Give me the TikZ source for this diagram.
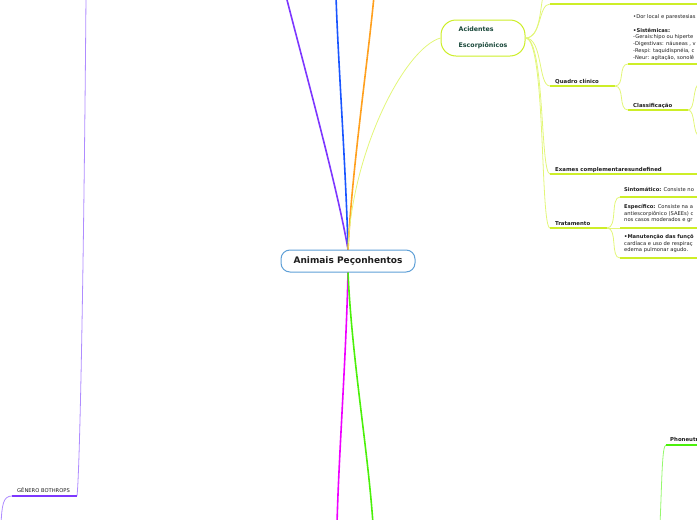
\documentclass[tikz,border=0pt]{standalone}
\usepackage{fontspec}
\setmainfont{DejaVu Sans}
\usetikzlibrary{positioning}
\definecolor{ink}{RGB}{30,30,30}
\definecolor{rootline}{RGB}{95,160,215}
\definecolor{lime}{RGB}{205,238,40}
\definecolor{limesoft}{RGB}{226,246,120}
\definecolor{limetext}{RGB}{25,72,58}
\definecolor{violet}{RGB}{125,55,255}
\definecolor{violetsoft}{RGB}{175,140,255}
\definecolor{azure}{RGB}{25,85,255}
\definecolor{amber}{RGB}{255,160,30}
\definecolor{fuchsia}{RGB}{238,0,255}
\definecolor{leaf}{RGB}{75,240,10}
\definecolor{leafsoft}{RGB}{150,248,110}
\tikzset{
  every picture/.style={x=1pt, y=-1pt, color=ink},
  central/.style={draw=rootline, line width=1pt, rounded corners=9pt, fill=white, minimum width=134pt, minimum height=22pt, inner sep=0pt, font=\fontsize{9}{11}\selectfont\bfseries},
  pill/.style={draw=lime, line width=1pt, rounded corners=15pt, fill=white, minimum width=84pt, minimum height=36pt, inner sep=0pt, align=left, text=limetext, font=\fontsize{6.3}{8}\selectfont\bfseries},
  topic/.style={anchor=base west, inner sep=0pt, font=\fontsize{5.4}{6.8}\selectfont\bfseries},
  caption/.style={anchor=base west, inner sep=0pt, font=\fontsize{5.2}{6.8}\selectfont},
  leafbox/.style={anchor=north west, inner sep=0pt, align=left, font=\fontsize{5.2}{6.8}\selectfont},
  limb/.style={line width=1.6pt},
  twig/.style={line width=0.8pt},
  under/.style={line width=1.8pt},
}

\begin{document}
\begin{tikzpicture}
  \useasboundingbox (0,0) rectangle (697,520);
  \clip (0,0) rectangle (697,520);

  % root and the main branches
  \node[central] (root) at (348,261) {Animais Peçonhentos};
  \coordinate (violet-end) at (286,-4);
  \coordinate (azure-end) at (336,-4);
  \coordinate (amber-end) at (374,-4);
  \coordinate (fuchsia-end) at (337,524);
  \coordinate (leaf-end) at (373,524);
  \draw[limb, violet] (root.north) .. controls (338,190) and (305,70) .. (violet-end);
  \draw[limb, azure] (root.north) .. controls (346,170) and (338,60) .. (azure-end);
  \draw[limb, amber] (root.north) .. controls (352,170) and (368,60) .. (amber-end);
  \draw[limb, fuchsia] (root.south) .. controls (346,360) and (339,450) .. (fuchsia-end);
  \draw[limb, leaf] (root.south) .. controls (352,360) and (368,450) .. (leaf-end);

  % Acidentes Escorpionicos
  \node[pill] (acid) at (483,38) {Acidentes\\[8pt]Escorpiônicos};
  \draw[twig, limesoft] (root.north) .. controls (352,150) and (405,48) .. (acid.west);

  \coordinate (acid-up) at (543,-4);
  \coordinate (hidden-a) at (550,4);
  \coordinate (hidden-b) at (700,4);
  \draw[twig, limesoft] (acid.east) .. controls (540,38) and (540,10) .. (acid-up);
  \draw[twig, limesoft] (acid.east) .. controls (542,38) and (538,4) .. (hidden-a);
  \draw[under, lime] (hidden-a) -- (hidden-b);

  \coordinate (quadro-a) at (550,86);
  \coordinate (quadro-b) at (615,86);
  \node[topic] (quadro) at (555,83) {Quadro clínico};
  \draw[twig, limesoft] (acid.east) .. controls (543,38) and (538,86) .. (quadro-a);
  \draw[under, lime] (quadro-a) -- (quadro-b);

  \coordinate (exames-a) at (550,174);
  \coordinate (exames-b) at (700,174);
  \node[topic] (exames) at (555,171) {Exames complementaresundefined};
  \draw[twig, limesoft] (acid.east) .. controls (545,38) and (540,174) .. (exames-a);
  \draw[under, lime] (exames-a) -- (exames-b);

  \coordinate (trat-a) at (550,228);
  \coordinate (trat-b) at (607,228);
  \node[topic] (trat) at (555,225) {Tratamento};
  \draw[twig, limesoft] (acid.east) .. controls (546,38) and (540,228) .. (trat-a);
  \draw[under, lime] (trat-a) -- (trat-b);

  % Quadro clinico
  \coordinate (sinais-a) at (628,64);
  \coordinate (sinais-b) at (700,64);
  \node[leafbox] (sinais) at (633,14) {•Dor local e parestesias\\[7.2pt]\textbf{•Sistêmicas:}\\-Gerais:hipo ou hiperte\\-Digestivas: náuseas , v\\-Respi: taquidispnéia, c\\-Neur: agitação, sonolê};
  \draw[twig, limesoft] (quadro-b) .. controls (625,86) and (618,64) .. (sinais-a);
  \draw[under, lime] (sinais-a) -- (sinais-b);

  \coordinate (classif-a) at (628,110);
  \coordinate (classif-b) at (688,110);
  \node[topic] (classif) at (633,107) {Classificação};
  \draw[twig, limesoft] (quadro-b) .. controls (625,86) and (618,110) .. (classif-a);
  \draw[under, lime] (classif-a) -- (classif-b);
  \coordinate (classif-up) at (700,84);
  \coordinate (classif-down) at (700,136);
  \draw[twig, limesoft] (classif-b) .. controls (696,110) and (692,84) .. (classif-up);
  \draw[twig, limesoft] (classif-b) .. controls (696,110) and (692,136) .. (classif-down);

  % Tratamento
  \coordinate (sint-a) at (620,197);
  \coordinate (sint-b) at (700,197);
  \node[caption] (sint) at (624,191) {\textbf{Sintomático:} Consiste no};
  \draw[twig, limesoft] (trat-b) .. controls (618,228) and (610,197) .. (sint-a);
  \draw[under, lime] (sint-a) -- (sint-b);

  \coordinate (espec-a) at (620,228);
  \coordinate (espec-b) at (700,228);
  \node[leafbox] (espec) at (624,204) {\textbf{Específico:} Consiste na a\\antiescorpiônico (SAEEs) c\\nos casos moderados e gr};
  \draw[twig, limesoft] (trat-b) -- (espec-a);
  \draw[under, lime] (espec-a) -- (espec-b);

  \coordinate (manut-a) at (620,258);
  \coordinate (manut-b) at (700,258);
  \node[leafbox] (manut) at (624,234) {\textbf{•Manutenção das funçõ}\\cardíaca e uso de respiraç\\edema pulmonar agudo.};
  \draw[twig, limesoft] (trat-b) .. controls (618,228) and (610,258) .. (manut-a);
  \draw[under, lime] (manut-a) -- (manut-b);

  % Genero Bothrops
  \coordinate (both-up) at (86,-4);
  \coordinate (both-a) at (12,496);
  \coordinate (both-b) at (77,496);
  \coordinate (both-down) at (1,524);
  \node[caption] (both) at (17,492) {GÊNERO BOTHROPS};
  \draw[twig, violetsoft] (both-up) .. controls (84,250) and (80,470) .. (both-b);
  \draw[under, violet] (both-a) -- (both-b);
  \draw[twig, violetsoft] (both-a) .. controls (3,496) and (2,505) .. (both-down);

  % Phoneutria
  \coordinate (phon-a) at (666,445);
  \coordinate (phon-b) at (700,445);
  \coordinate (phon-down) at (660,524);
  \node[topic] (phon) at (670,441) {Phoneutria};
  \draw[twig, leafsoft] (phon-down) .. controls (662,480) and (662,445) .. (phon-a);
  \draw[under, leaf] (phon-a) -- (phon-b);
\end{tikzpicture}
\end{document}
